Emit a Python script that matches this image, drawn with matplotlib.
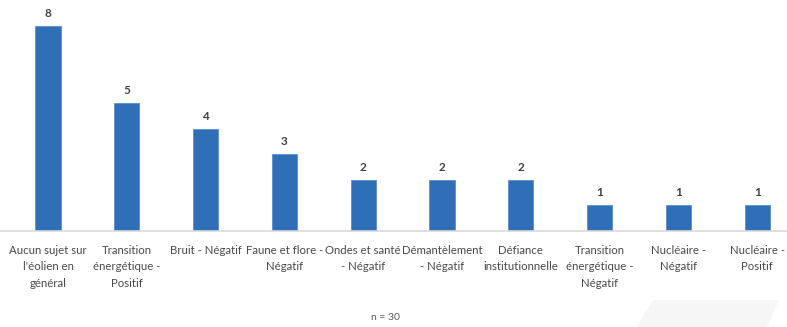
import matplotlib.pyplot as plt
from matplotlib.patches import Polygon
from matplotlib.lines import Line2D

# Data
categories = [
    "Aucun sujet sur\nl'éolien en\ngénéral",
    "Transition\nénergétique -\nPositif",
    "Bruit - Négatif",
    "Faune et flore -\nNégatif",
    "Ondes et santé\n- Négatif",
    "Démantèlement\n- Négatif",
    "Défiance\ninstitutionnelle",
    "Transition\nénergétique -\nNégatif",
    "Nucléaire -\nNégatif",
    "Nucléaire -\nPositif",
]
counts = [8, 5, 4, 3, 2, 2, 2, 1, 1, 1]
n_total = 30

plt.rcParams['font.family'] = ['Lato', 'DejaVu Sans']

W, H = 787, 327
fig = plt.figure(figsize=(W / 100, H / 100), dpi=100)
fig.patch.set_facecolor('white')

# decorative light parallelogram bottom right
fig.add_artist(Polygon([(637 / W, 0), (653 / W, 27 / H), (779 / W, 27 / H), (767 / W, 0)],
                       closed=True, transform=fig.transFigure, facecolor='#f6f6f6',
                       edgecolor='none', zorder=0))

ax = fig.add_axes([8.6 / W, 96 / H, 788 / W, 230.6 / H])
ax.set_facecolor('none')

x = range(len(categories))
bars = ax.bar(x, counts, width=0.32, color='#2F6FB7', edgecolor='#5b8fcc', linewidth=0.6, zorder=2)
ax.set_xlim(-0.5, len(categories) - 0.5)
ax.set_ylim(0, 9)

for b, v in zip(bars, counts):
    ax.annotate(str(v), (b.get_x() + b.get_width() / 2, v), xytext=(0, 5),
                textcoords='offset points', ha='center', va='bottom',
                fontsize=8.5, fontweight='bold', color='#404040')

ax.set_xticks(list(x))
ax.set_xticklabels(categories, fontsize=8.2, color='#4a4a4a', linespacing=1.6)
ax.tick_params(axis='x', length=0, pad=10)
ax.set_yticks([])
for s in ['top', 'right', 'left', 'bottom']:
    ax.spines[s].set_visible(False)

# baseline across the full width
fig.add_artist(Line2D([0, 1], [96 / H, 96 / H], transform=fig.transFigure,
                      color='#d9d9d9', linewidth=1.2, zorder=1))

fig.text(385 / W, 1 - 318 / H, f'n = {n_total}', ha='center', va='center',
         fontsize=7.5, color='#595959')

fig.savefig('out.png', dpi=100, facecolor='white')
